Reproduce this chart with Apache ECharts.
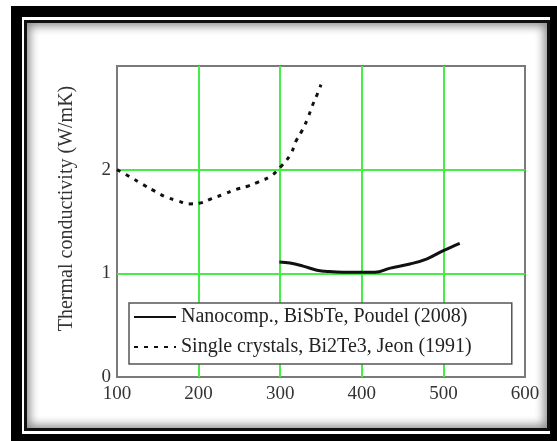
<!DOCTYPE html>
<html>
<head>
<meta charset="utf-8">
<script src="https://cdn.jsdelivr.net/npm/echarts@6/dist/echarts.min.js"></script>
<style>
  html, body { margin: 0; padding: 0; background: #fff; }
  #outer {
    position: absolute; left: 11px; top: 6px; width: 546px; height: 435px;
    box-sizing: border-box; border-style: solid; border-color: #000;
    border-width: 11px 7px 7px 11px;
  }
  #inner {
    position: absolute; left: 24px; top: 20px; width: 526px; height: 411px;
    box-sizing: border-box; border: 3px solid #111;
    box-shadow: inset 0 0 10px 3px rgba(0, 0, 0, 0.45);
  }
  #chart { position: absolute; left: 0; top: 0; width: 557px; height: 441px; }
</style>
</head>
<body>
<div id="outer"></div>
<div id="inner"></div>
<div id="chart"></div>
<script>
    // values
    let xTicks = [100, 200, 300, 400, 500, 600];
    let yTicks = [0, 1, 2, 3];

    let nanoName = 'Nanocomp., BiSbTe, Poudel (2008)';
    let nanoX = [299, 312, 328, 345, 355, 377, 400, 416, 435, 459, 480, 500, 520];
    let nanoY = [1.11, 1.10, 1.07, 1.03, 1.02, 1.01, 1.01, 1.01, 1.05, 1.09, 1.14, 1.22, 1.29];

    let crystalName = 'Single crystals, Bi2Te3, Jeon (1991)';
    let crystalX = [100, 116, 131, 147, 159, 174, 189, 203, 216, 230, 246, 260, 273, 289, 302, 313, 319, 327, 334, 339, 345, 350];
    let crystalY = [2.00, 1.93, 1.86, 1.79, 1.74, 1.70, 1.67, 1.68, 1.72, 1.76, 1.81, 1.84, 1.88, 1.94, 2.04, 2.15, 2.27, 2.38, 2.50, 2.61, 2.72, 2.82];

    const font = 'Liberation Serif, Times New Roman, serif';
    const green = '#44ee44';

    function pairs(xs, ys) {
        return xs.map((x, i) => [x, ys[i]]);
    }

    let chart = echarts.init(document.getElementById('chart'));
    chart.setOption({
        animation: false,
        textStyle: { fontFamily: font },
        grid: {
            left: 117, top: 66, right: 32, bottom: 64,
            show: true, backgroundColor: '#fff',
            borderColor: '#7a7a7a', borderWidth: 2
        },
        xAxis: {
            type: 'value',
            min: xTicks[0], max: xTicks[xTicks.length - 1], interval: 100,
            axisLine: { show: false },
            axisTick: { show: false },
            axisLabel: { color: '#333', fontSize: 19, fontFamily: font, margin: 8 },
            splitLine: {
                show: true, showMinLine: false, showMaxLine: false,
                lineStyle: { color: green, width: 2 }
            }
        },
        yAxis: {
            type: 'value',
            min: yTicks[0], max: yTicks[yTicks.length - 1], interval: 1,
            name: 'Thermal conductivity (W/mK)',
            nameLocation: 'middle',
            nameGap: 40,
            nameTextStyle: {
                color: '#333', fontSize: 20, fontFamily: font,
                padding: [0, 0, 0, 26]
            },
            axisLine: { show: false },
            axisTick: { show: false },
            axisLabel: {
                color: '#333', fontSize: 19, fontFamily: font, margin: 6,
                formatter: v => (v === 3 ? '' : String(v))
            },
            splitLine: {
                show: true, showMinLine: false, showMaxLine: false,
                lineStyle: { color: green, width: 2 }
            }
        },
        legend: {
            orient: 'vertical',
            left: 129, top: 303,
            backgroundColor: '#fff',
            borderColor: '#555', borderWidth: 1.5,
            padding: [4, 40, 7, 4],
            itemWidth: 42, itemHeight: 14, itemGap: 10,
            itemStyle: { opacity: 0 },
            textStyle: { color: '#222', fontSize: 20, fontFamily: font },
            data: [nanoName, crystalName]
        },
        series: [
            {
                name: nanoName,
                type: 'line',
                smooth: 0.4,
                symbol: 'none',
                data: pairs(nanoX, nanoY),
                lineStyle: { color: '#111', width: 3 },
                itemStyle: { color: '#111' }
            },
            {
                name: crystalName,
                type: 'line',
                smooth: 0.4,
                symbol: 'none',
                data: pairs(crystalX, crystalY),
                lineStyle: { color: '#111', width: 3, type: [4, 6] },
                itemStyle: { color: '#111' }
            }
        ]
    });
</script>
</body>
</html>
